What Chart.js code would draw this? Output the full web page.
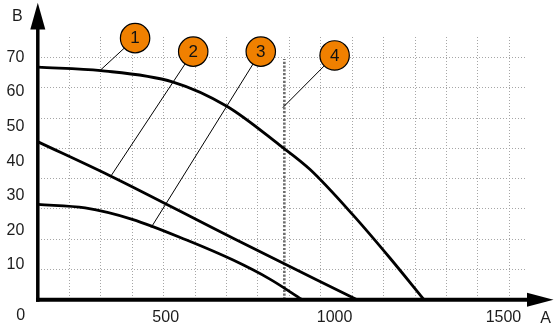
<!DOCTYPE html>
<html>
<head>
<meta charset="utf-8">
<script src="https://cdn.jsdelivr.net/npm/chart.js@4.4.1/dist/chart.umd.min.js"></script>
<style>
  html, body { margin: 0; padding: 0; background: #ffffff; }
  #wrap { width: 557px; height: 326px; position: relative; }
</style>
</head>
<body>
<div id="wrap"><canvas id="c" width="557" height="326"></canvas></div>
<script>
// ---- data (x in grid units of 100 per cell, y in axis units) ----
const curve1X = [0, 200, 430, 601, 770, 866, 1003, 1120, 1228];
const curve1Y = [67.2, 66.2, 62.9, 55.9, 44.6, 37.6, 24.4, 12.0, 0];

const curve2X = [0, 229, 621, 1014];
const curve2Y = [45.6, 35.8, 17.7, 0];

const curve3X = [0, 150, 300, 473, 621, 738, 840];
const curve3Y = [27.5, 26.5, 23.2, 17.2, 11.4, 5.9, 0];

const marker4X = [784, 784];
const marker4Y = [0, 69.6];

const calloutLabels = ['1', '2', '3', '4'];
const calloutX = [309, 494, 709, 944];
const calloutY = [75.6, 71.7, 71.7, 70.6];
const leaderX = [197, 232, 360, 779];
const leaderY = [66.2, 35.7, 20.8, 55.5];

const xTickLabels = [500, 1000, 1500];
const yTickLabels = [10, 20, 30, 40, 50, 60, 70];
const xAxisName = 'A';
const yAxisName = 'B';
const originLabel = '0';

// ---- helpers ----
const pts = (xs, ys) => xs.map((x, i) => ({ x: x, y: ys[i] }));
const FONT = "'Liberation Sans', Arial, sans-serif";
const TEXT = '#1c1c1c';
const ORANGE = '#f08000';
const GRID = '#a6a6a6';

Chart.defaults.font.family = FONT;

const leaderSets = calloutX.map((cx, i) => ({
  type: 'line',
  data: [{ x: cx, y: calloutY[i] }, { x: leaderX[i], y: leaderY[i] }],
  borderColor: '#000',
  borderWidth: 1,
  pointRadius: 0,
  clip: false,
  order: 5
}));

const curveStyle = {
  type: 'line',
  borderColor: '#000',
  borderWidth: 2.8,
  pointRadius: 0,
  fill: false,
  cubicInterpolationMode: 'monotone',
  order: 10
};

const overlayPlugin = {
  id: 'overlay',
  afterDatasetsDraw(chart) {
    const ctx = chart.ctx;
    const a = chart.chartArea;
    const xs = chart.scales.x, ys = chart.scales.y;
    const ox = xs.getPixelForValue(0) - 0.2;
    const oy = ys.getPixelForValue(0) + 0.2;
    ctx.save();
    ctx.fillStyle = '#000';
    ctx.strokeStyle = '#000';
    ctx.lineCap = 'butt';
    // y axis
    ctx.lineWidth = 3.5;
    ctx.beginPath();
    ctx.moveTo(ox, oy + 2);
    ctx.lineTo(ox, a.top - 8);
    ctx.stroke();
    ctx.beginPath();
    ctx.moveTo(ox, a.top - 34.3);
    ctx.lineTo(ox - 7.5, a.top - 7.5);
    ctx.lineTo(ox + 7.5, a.top - 7.5);
    ctx.closePath();
    ctx.fill();
    // x axis
    ctx.lineWidth = 4;
    ctx.beginPath();
    ctx.moveTo(ox - 1.8, oy);
    ctx.lineTo(a.right + 1, oy);
    ctx.stroke();
    ctx.beginPath();
    ctx.moveTo(a.right + 26.5, oy);
    ctx.lineTo(a.right, oy - 7);
    ctx.lineTo(a.right, oy + 7);
    ctx.closePath();
    ctx.fill();
    // axis names and origin
    ctx.fillStyle = TEXT;
    ctx.font = '16px ' + FONT;
    ctx.textAlign = 'center';
    ctx.textBaseline = 'middle';
    ctx.fillText(yAxisName, a.left - 20.7, a.top - 20.3);
    ctx.fillText(xAxisName, a.right + 18.7, a.bottom + 19.5);
    ctx.fillText(originLabel, a.left - 17.3, a.bottom + 16);
    // callout numbers
    const meta = chart.getDatasetMeta(0);
    ctx.font = '17px ' + FONT;
    ctx.fillStyle = '#111';
    meta.data.forEach((p, i) => {
      ctx.fillText(calloutLabels[i], p.x, p.y + 0.5);
    });
    ctx.restore();
  }
};

const Y_MAX = 75.93;
const X_MAX = 1556.3;

new Chart(document.getElementById('c'), {
  data: {
    datasets: [
      {
        type: 'scatter',
        data: pts(calloutX, calloutY),
        pointRadius: 14.7,
        pointHoverRadius: 14.7,
        backgroundColor: ORANGE,
        borderColor: '#000',
        borderWidth: 1.2,
        clip: false,
        order: 0
      },
      ...leaderSets,
      Object.assign({}, curveStyle, { data: pts(curve1X, curve1Y) }),
      Object.assign({}, curveStyle, { data: pts(curve2X, curve2Y) }),
      Object.assign({}, curveStyle, { data: pts(curve3X, curve3Y) }),
      {
        type: 'line',
        data: pts(marker4X, marker4Y),
        borderColor: '#6c6c6c',
        borderWidth: 2.6,
        borderDash: [2.2, 1.6],
        pointRadius: 0,
        order: 12
      }
    ]
  },
  options: {
    responsive: false,
    devicePixelRatio: 1,
    animation: false,
    events: [],
    layout: { padding: { top: 37, right: 30, left: 0, bottom: 0 } },
    plugins: { legend: { display: false }, tooltip: { enabled: false } },
    scales: {
      x: {
        type: 'linear', position: 'bottom', min: 0, max: X_MAX,
        afterBuildTicks: s => { s.ticks = Array.from({ length: 16 }, (_, i) => ({ value: i * 100 })); },
        afterFit: s => { s.height = 0; },
        ticks: { display: false },
        grid: { color: GRID, lineWidth: 1, drawTicks: false },
        border: { display: false, dash: [1, 2] }
      },
      xLab: {
        type: 'linear', position: 'bottom', min: 121.8, max: 1569.8,
        afterBuildTicks: s => { s.ticks = xTickLabels.map(v => ({ value: v })); },
        afterFit: s => { s.height = 26.5; },
        ticks: { color: TEXT, font: { size: 16, family: FONT }, padding: 8, maxRotation: 0, autoSkip: false, callback: v => String(v) },
        grid: { display: false, drawTicks: false },
        border: { display: false }
      },
      y: {
        type: 'linear', position: 'left', min: 0, max: Y_MAX,
        afterBuildTicks: s => { s.ticks = yTickLabels.map(v => ({ value: v })); },
        afterFit: s => { s.width = 38; },
        ticks: { color: TEXT, font: { size: 16, family: FONT }, padding: 13.7, autoSkip: false, callback: v => String(v) },
        grid: { display: false, drawTicks: false },
        border: { display: false }
      },
      yGrid: {
        type: 'linear', position: 'left', min: 0, max: Y_MAX,
        afterBuildTicks: s => { s.ticks = Array.from({ length: 9 }, (_, i) => ({ value: i * 8.75 })); },
        afterFit: s => { s.width = 0; },
        ticks: { display: false },
        grid: { color: GRID, lineWidth: 1, drawTicks: false },
        border: { display: false, dash: [1, 2] }
      }
    }
  },
  plugins: [overlayPlugin]
});
</script>
</body>
</html>
